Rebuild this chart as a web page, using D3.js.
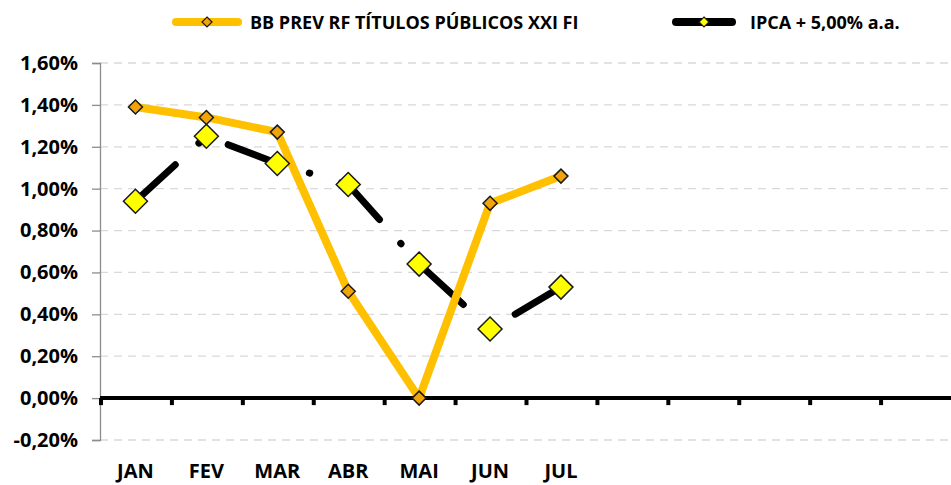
<!DOCTYPE html>
<html>
<head>
<meta charset="utf-8">
<script src="https://cdn.jsdelivr.net/npm/d3@7"></script>
<style>
  body { margin: 0; background: #fff; }
  svg { display: block; font-family: "Open Sans", sans-serif; font-weight: 700; }
</style>
</head>
<body>
<script>
// categories (12 slots on the axis, only 7 are labelled)
const months = ["JAN", "FEV", "MAR", "ABR", "MAI", "JUN", "JUL", "", "", "", "", ""];
// series values, in percent
const fundValues = [1.39, 1.34, 1.27, 0.51, 0.0, 0.93, 1.06];
const ipcaValues = [0.94, 1.25, 1.12, 1.02, 0.64, 0.33, 0.53];
const yTicks = [-0.2, 0, 0.2, 0.4, 0.6, 0.8, 1.0, 1.2, 1.4, 1.6];
const seriesNames = ["BB PREV RF TÍTULOS PÚBLICOS XXI FI", "IPCA + 5,00% a.a."];

const width = 951;
const height = 485;
const plotLeft = 100, plotRight = 951, plotTop = 63, plotBottom = 440;

const svg = d3.select("body").append("svg")
  .attr("width", width)
  .attr("height", height);

// scales
const xScale = d3.scaleBand()
  .domain(d3.range(months.length))
  .range([plotLeft, plotRight]);

const yScale = d3.scaleLinear()
  .domain([-0.2, 1.6])
  .range([plotBottom, plotTop]);

const fmt = (v) => v.toFixed(2).replace(".", ",") + "%";

// dashed gridlines
svg.append("g")
  .selectAll("line")
  .data(yTicks.filter((d) => d !== 0))
  .enter()
  .append("line")
  .attr("x1", plotLeft)
  .attr("x2", plotRight)
  .attr("y1", (d) => yScale(d))
  .attr("y2", (d) => yScale(d))
  .attr("stroke", "#d9d9d9")
  .attr("stroke-width", 1.3)
  .attr("stroke-dasharray", "8,6");

// y axis
const yAxis = d3.axisLeft(yScale)
  .tickValues(yTicks)
  .tickSize(8)
  .tickPadding(14)
  .tickFormat(fmt);

const gy = svg.append("g")
  .attr("transform", "translate(" + plotLeft + ",0)")
  .call(yAxis);
gy.select(".domain").attr("stroke", "#8c8c8c").attr("stroke-width", 1.3);
gy.selectAll(".tick line").attr("stroke", "#8c8c8c").attr("stroke-width", 1.3);
gy.selectAll(".tick text")
  .attr("fill", "#000")
  .style("font-size", "20px")
  .style("font-family", "'Open Sans', sans-serif")
  .style("font-weight", 700);

// x axis on the zero line
const xAxis = d3.axisBottom(xScale)
  .tickSize(0)
  .tickFormat((i) => months[i]);

const gx = svg.append("g")
  .attr("transform", "translate(0," + yScale(0) + ")")
  .call(xAxis);
gx.select(".domain").remove();
gx.selectAll(".tick text")
  .attr("y", 80)
  .attr("dy", 0)
  .attr("fill", "#000")
  .style("font-size", "20px")
  .style("font-family", "'Open Sans', sans-serif")
  .style("font-weight", 700);

svg.append("line")
  .attr("x1", plotLeft)
  .attr("x2", plotRight)
  .attr("y1", yScale(0))
  .attr("y2", yScale(0))
  .attr("stroke", "#000")
  .attr("stroke-width", 4);

// category boundary ticks below the zero line
svg.append("g")
  .selectAll("line")
  .data(d3.range(months.length))
  .enter()
  .append("line")
  .attr("x1", (i) => xScale(i) + 1)
  .attr("x2", (i) => xScale(i) + 1)
  .attr("y1", yScale(0))
  .attr("y2", yScale(0) + 7)
  .attr("stroke", "#000")
  .attr("stroke-width", 4);

const cx = (i) => xScale(i) + xScale.bandwidth() / 2;
const diamond = (s) => `M0,${-s}L${s},0L0,${s}L${-s},0Z`;

const lineGen = d3.line()
  .x((d, i) => cx(i))
  .y((d) => yScale(d));

// IPCA line (long dash dot)
svg.append("path")
  .datum(ipcaValues)
  .attr("d", lineGen)
  .attr("fill", "none")
  .attr("stroke", "#000")
  .attr("stroke-width", 7)
  .attr("stroke-linecap", "round")
  .attr("stroke-dasharray", "54,32,0.5,33");

// fund line
svg.append("path")
  .datum(fundValues)
  .attr("d", lineGen)
  .attr("fill", "none")
  .attr("stroke", "#ffc000")
  .attr("stroke-width", 8)
  .attr("stroke-linejoin", "round");

// markers
svg.append("g")
  .selectAll("path")
  .data(ipcaValues)
  .enter()
  .append("path")
  .attr("d", diamond(12))
  .attr("transform", (d, i) => "translate(" + cx(i) + "," + yScale(d) + ")")
  .attr("fill", "#ffff00")
  .attr("stroke", "#1a1a1a")
  .attr("stroke-width", 1.5);

svg.append("g")
  .selectAll("path")
  .data(fundValues)
  .enter()
  .append("path")
  .attr("d", diamond(7))
  .attr("transform", (d, i) => "translate(" + cx(i) + "," + yScale(d) + ")")
  .attr("fill", "#f0a30a")
  .attr("stroke", "#1a1a1a")
  .attr("stroke-width", 1.5);

// legend
const legend = svg.append("g");
const legendItems = [
  { x0: 172, x1: 242, text: seriesNames[0], color: "#ffc000", marker: "#f0a30a", tx: 250 },
  { x0: 672, x1: 736, text: seriesNames[1], color: "#000", marker: "#ffff00", tx: 750 },
];
legendItems.forEach(function (d) {
  legend.append("line")
    .attr("x1", d.x0 + 4)
    .attr("x2", d.x1 - 4)
    .attr("y1", 22)
    .attr("y2", 22)
    .attr("stroke", d.color)
    .attr("stroke-width", 8)
    .attr("stroke-linecap", "round");
  legend.append("path")
    .attr("d", diamond(5))
    .attr("transform", "translate(" + (d.x0 + d.x1) / 2 + ",22)")
    .attr("fill", d.marker)
    .attr("stroke", "#1a1a1a")
    .attr("stroke-width", 1.2);
  legend.append("text")
    .attr("x", d.tx)
    .attr("y", 29)
    .style("font-size", "18px")
    .text(d.text);
});
</script>
</body>
</html>
